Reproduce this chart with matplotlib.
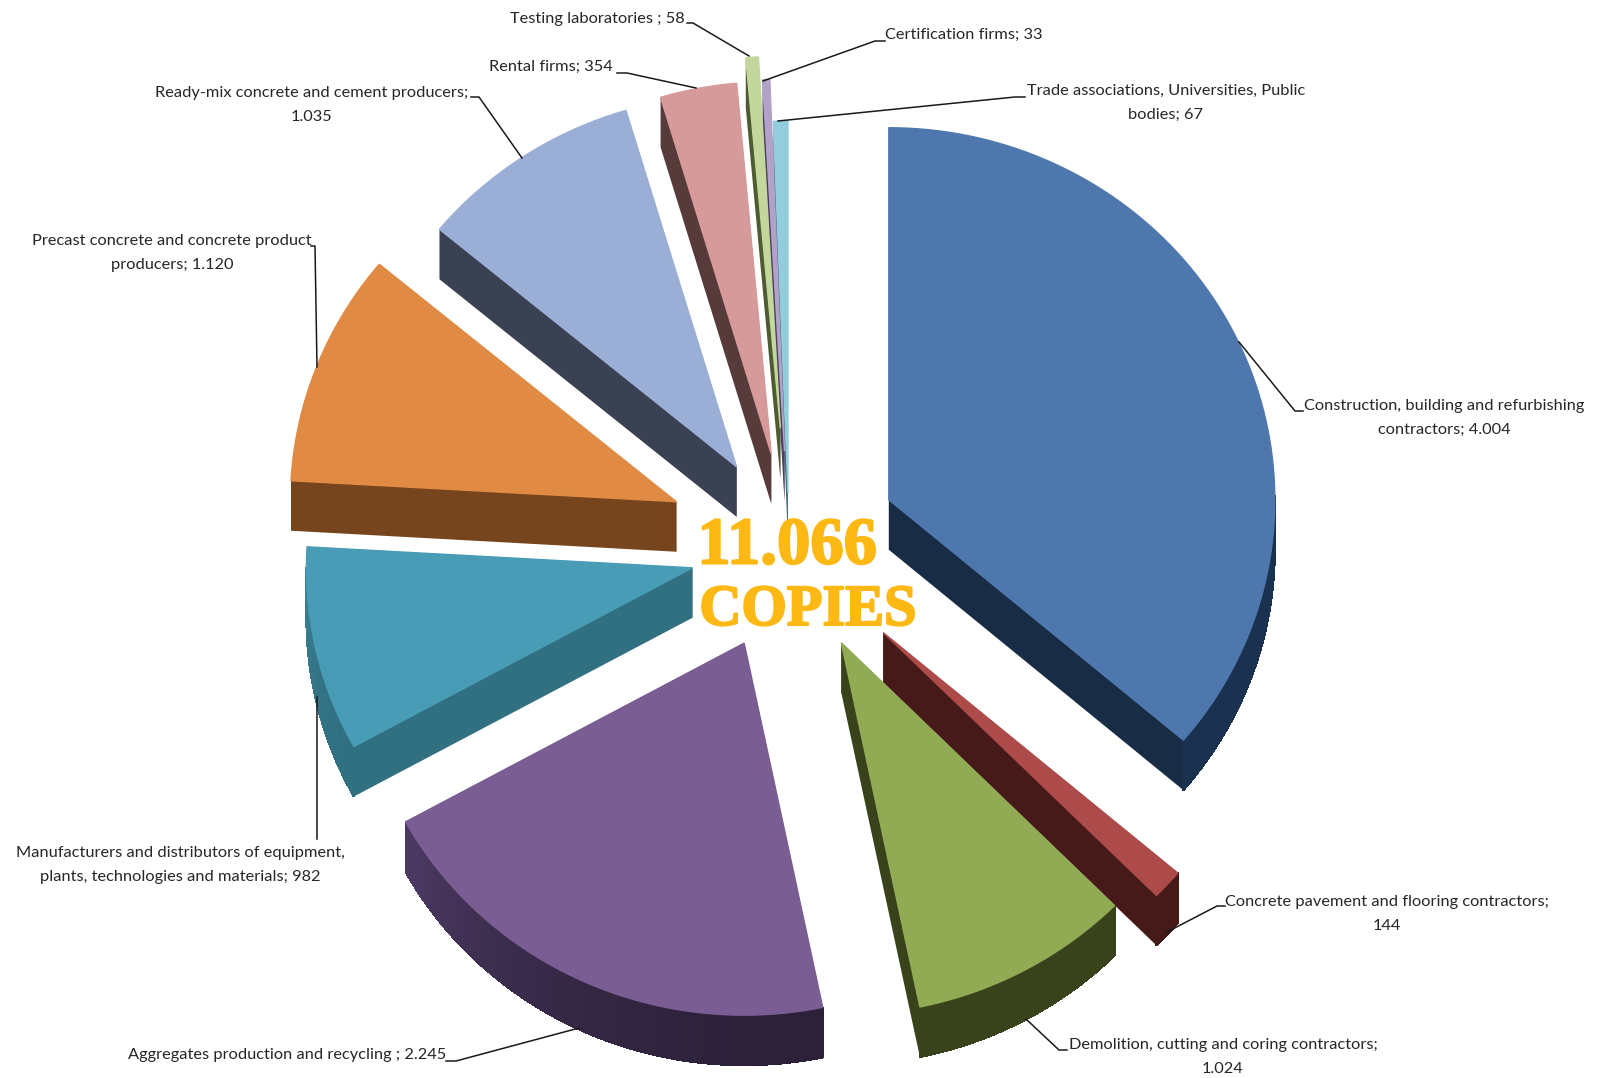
import numpy as np
import matplotlib
matplotlib.use('Agg')
import matplotlib.pyplot as plt
import matplotlib.patheffects as pe
from matplotlib.colors import to_rgb

labels = ['Construction, building and refurbishing\ncontractors; 4.004',
          'Concrete pavement and flooring contractors;\n144',
          'Demolition, cutting and coring contractors;\n1.024',
          'Aggregates production and recycling ; 2.245',
          'Manufacturers and distributors of equipment,\nplants, technologies and materials; 982',
          'Precast concrete and concrete product\nproducers; 1.120',
          'Ready-mix concrete and cement producers;\n1.035',
          'Rental firms; 354',
          'Testing laboratories ; 58',
          'Certification firms; 33',
          'Trade associations, Universities, Public\nbodies; 67']
copies = np.array([4004, 144, 1024, 2245, 982, 1120, 1035, 354, 58, 33, 67])

# how far each slice is pulled out of the pie
explode = [110, 128, 110, 107, 99, 121, 95, 94, 118, 95, 53]
top_colors = ['#4e78ad', '#ad4b4a', '#91ab55', '#7a5e93', '#499cb6', '#e08a43',
              '#9bafd6', '#d79a9a', '#c3d69b', '#b3a2c7', '#93cddd']
side_colors = ['#182c46', '#451a18', '#38431c', '#2c2139', '#317081', '#76451e',
               '#3a4152', '#573a3a', '#4d5a32', '#4a4060', '#3f6a75']
rim_start = ['#1a3150', '#451a18', '#38431c', '#2c2139', '#317081', '#76451e',
             '#3a4152', '#573a3a', '#4d5a32', '#4a4060', '#3f6a75']
rim_end = ['#1a3150', '#451a18', '#38431c', '#4c3a63', '#3a8092', '#76451e',
           '#3a4152', '#573a3a', '#4d5a32', '#4a4060', '#3f6a75']
draw_order = [10, 9, 8, 7, 6, 5, 4, 1, 2, 3, 0]

# pie geometry in pixels
cx, cy = 789, 546
rx, ry = 386, 372
depth = 50

# label centre, and the leader line
label_pos = [(1444, 418), (1387, 914), (1223, 1057), (287, 1055), (180, 865),
             (172, 253), (312, 105), (551, 67), (597, 19), (964, 35), (1166, 103)]
leaders = [[(1239, 342), (1295, 411), (1303, 411)],
           [(1167, 932), (1217, 906), (1225, 906)],
           [(1026, 1019), (1059, 1050), (1067, 1050)],
           [(579, 1028), (456, 1061), (446, 1061)],
           [(317, 697), (317, 839)],
           [(317, 367), (315, 246), (311, 246)],
           [(522, 158), (479, 97), (471, 97)],
           [(696, 88), (627, 73), (617, 73)],
           [(749, 56), (693, 23), (687, 23)],
           [(763, 81), (875, 41), (885, 41)],
           [(778, 121), (1015, 97), (1025, 97)]]

fig = plt.figure(figsize=(15.99, 10.78), dpi=100)
ax = fig.add_axes([0, 0, 1, 1])
ax.set_xlim(0, 1599)
ax.set_ylim(1078, 0)
ax.axis('off')

edges = np.concatenate([[0], np.cumsum(copies)]) / copies.sum() * 2 * np.pi


def side_quad(x0, y0, x1, y1, color, lw=0.0, smooth=True):
    ax.fill([x0, x1, x1, x0], [y0, y1, y1 + depth, y0 + depth],
            facecolor=color, edgecolor=color, linewidth=lw, antialiased=smooth)


for i in draw_order:
    mid = (edges[i] + edges[i + 1]) / 2
    ax_ = cx + explode[i] * np.sin(mid)
    ay_ = cy - explode[i] * np.cos(mid)
    t = np.linspace(edges[i], edges[i + 1], 90)
    arc_x = ax_ + rx * np.sin(t)
    arc_y = ay_ - ry * np.cos(t)

    # cut faces, then the part of the rim that faces the viewer
    side_quad(ax_, ay_, arc_x[0], arc_y[0], side_colors[i])
    side_quad(ax_, ay_, arc_x[-1], arc_y[-1], side_colors[i])
    c0 = np.array(to_rgb(rim_start[i]))
    c1 = np.array(to_rgb(rim_end[i]))
    for j in range(len(t) - 1):
        if np.cos(t[j]) > 0 and np.cos(t[j + 1]) > 0:
            continue
        f = (j / (len(t) - 2)) ** 2
        side_quad(arc_x[j], arc_y[j], arc_x[j + 1], arc_y[j + 1],
                  tuple(c0 + (c1 - c0) * f), lw=0.8, smooth=False)

    ax.fill(np.r_[ax_, arc_x], np.r_[ay_, arc_y], facecolor=top_colors[i],
            edgecolor=top_colors[i], linewidth=1.0)

for i in range(len(labels)):
    pts = np.array(leaders[i])
    ax.plot(pts[:, 0], pts[:, 1], color='#1a1a1a', linewidth=1.1)
    ax.text(label_pos[i][0], label_pos[i][1], labels[i], ha='center', va='center',
            fontsize=11.8, family='Lato', color='#262626', linespacing=1.85)

gold = '#fdb813'
stroke = [pe.withStroke(linewidth=1.5, foreground=gold)]
ax.text(787, 547, '11.066', ha='center', va='center', fontsize=48, color=gold,
        family='Liberation Serif', weight='bold', path_effects=stroke)
ax.text(808, 611, 'COPIES', ha='center', va='center', fontsize=42, color=gold,
        family='Liberation Serif', weight='bold', path_effects=stroke)

fig.savefig('out.png', dpi=100, facecolor='white')
